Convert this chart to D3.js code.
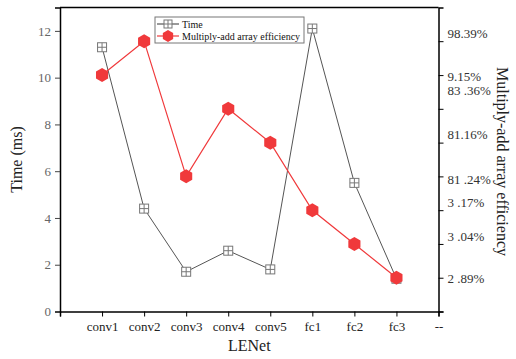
<!DOCTYPE html>
<html>
<head>
<meta charset="utf-8">
<script src="https://cdn.jsdelivr.net/npm/d3@7"></script>
<style>
  body { margin: 0; background: #fff; }
  text { font-family: "Liberation Serif", "Times New Roman", serif; }
</style>
</head>
<body>
<svg id="chart" width="516" height="359"></svg>
<script>
"use strict";

let categories = ["", "conv1", "conv2", "conv3", "conv4", "conv5", "fc1", "fc2", "fc3", "--"];
let layers = ["conv1", "conv2", "conv3", "conv4", "conv5", "fc1", "fc2", "fc3"];
let timeMs = [11.3, 4.4, 1.7, 2.6, 1.8, 12.1, 5.5, 1.4];
// efficiency drawn on the right scale (same 0..13 range as the left axis)
let efficiency = [10.11, 11.56, 5.78, 8.67, 7.22, 4.33, 2.89, 1.44];
let leftTicks = [0, 2, 4, 6, 8, 10, 12];
let rightTicks = [0, 1.444, 2.889, 4.333, 5.778, 7.222, 8.667, 10.11, 11.56];
let rightLabels = ["98.39%", "9.15%", "83 .36%", "81.16%", "81 .24%", "3 .17%", "3 .04%", "2 .89%"];
let rightLabelAt = [11.91, 10.07, 9.44, 7.55, 5.63, 4.65, 3.21, 1.43];

const SERIF = "Liberation Serif, Times New Roman, serif";
let svg = d3.select("#chart");
let margin = {top: 7.5, right: 77.5, bottom: 47.5, left: 60};
let W = 516, H = 359;
let w = W - margin.left - margin.right;
let h = H - margin.top - margin.bottom;
let g = svg.append("g").attr("transform", `translate(${margin.left},${margin.top})`);

let x = d3.scalePoint().domain(categories).range([0, w]);
let y = d3.scaleLinear().domain([0, 13]).range([h, 0]);

// left axis
let ax = g.append("g").call(d3.axisLeft(y).tickValues(leftTicks).tickSize(5).tickPadding(4))
  .attr("font-family", SERIF);
ax.select(".domain").attr("stroke-width", 1.5);
ax.selectAll("text").attr("font-size", 13).attr("fill", "#666");
ax.selectAll(".tick line").attr("stroke", "#444");

// bottom axis
let bx = g.append("g").attr("transform", `translate(0,${h})`)
  .call(d3.axisBottom(x).tickSize(5).tickPadding(5))
  .attr("font-family", SERIF);
bx.select(".domain").attr("stroke-width", 1.5);
bx.selectAll("text").attr("font-size", 13).attr("fill", "#222");

// right axis
let rx = g.append("g").attr("transform", `translate(${w},0)`)
  .call(d3.axisRight(y).tickValues(rightTicks).tickSize(5).tickFormat(""));
rx.select(".domain").attr("stroke-width", 1.5);

g.selectAll(".rlabel").data(rightLabels).enter().append("text")
  .attr("class", "rlabel")
  .attr("x", w + 9)
  .attr("y", (d, i) => y(rightLabelAt[i]))
  .attr("dy", "0.35em")
  .attr("font-size", 13)
  .attr("fill", "#333")
  .text(d => d);

// top border
g.append("line").attr("x1", 0).attr("x2", w).attr("y1", 0).attr("y2", 0)
  .attr("stroke", "#000").attr("stroke-width", 1.5);

// titles
svg.append("text").attr("transform", `translate(22,${margin.top + h / 2}) rotate(-90)`)
  .attr("text-anchor", "middle").attr("font-size", 16).attr("fill", "#222").text("Time (ms)");
svg.append("text").attr("x", margin.left + w / 2).attr("y", 351)
  .attr("text-anchor", "middle").attr("font-size", 16).attr("fill", "#222").text("LENet");
svg.append("text").attr("transform", `translate(497,${margin.top + h / 2 + 2}) rotate(90)`)
  .attr("text-anchor", "middle").attr("font-size", 16).attr("fill", "#222").text("Multiply-add array efficiency");

let redC = "#f0393b";
let line = d3.line().x((d, i) => x(layers[i])).y(d => y(d));

g.append("path").datum(timeMs).attr("d", line)
  .attr("fill", "none").attr("stroke", "#555").attr("stroke-width", 1);
g.append("path").datum(efficiency).attr("d", line)
  .attr("fill", "none").attr("stroke", redC).attr("stroke-width", 1.2);

function boxCross(sel, s) {
  sel.append("rect").attr("x", -s / 2).attr("y", -s / 2).attr("width", s).attr("height", s)
    .attr("fill", "#fff").attr("stroke", "#777");
  sel.append("path").attr("d", `M${-s / 2},0H${s / 2}M0,${-s / 2}V${s / 2}`).attr("stroke", "#777");
}
let hex = d3.range(6).map(k => {
  let a = Math.PI / 6 + k * Math.PI / 3;
  return [7 * Math.cos(a), 7 * Math.sin(a)];
});
function hexagon(sel, k) {
  sel.append("path").attr("d", "M" + hex.map(p => [p[0] * k, p[1] * k]).join("L") + "Z").attr("fill", redC);
}

g.selectAll(".tm").data(timeMs).enter().append("g")
  .attr("transform", (d, i) => `translate(${x(layers[i])},${y(d)})`)
  .each(function () { boxCross(d3.select(this), 9); });
g.selectAll(".ef").data(efficiency).enter().append("g")
  .attr("transform", (d, i) => `translate(${x(layers[i])},${y(d)})`)
  .each(function () { hexagon(d3.select(this), 1); });

// legend
let lg = svg.append("g").attr("transform", "translate(155,17)");
lg.append("rect").attr("width", 149).attr("height", 26).attr("fill", "#fff").attr("stroke", "#777");
let items = [
  {label: "Time", color: "#555"},
  {label: "Multiply-add array efficiency", color: redC}
];
items.forEach((it, i) => {
  let yy = 7 + i * 12;
  lg.append("line").attr("x1", 2).attr("x2", 24).attr("y1", yy).attr("y2", yy)
    .attr("stroke", it.color).attr("stroke-width", 1.2);
  let m = lg.append("g").attr("transform", `translate(13,${yy})`);
  if (i === 0) boxCross(m, 8);
  else hexagon(m, 0.85);
  lg.append("text").attr("x", 27).attr("y", yy).attr("dy", "0.35em")
    .attr("font-size", 10).attr("fill", "#111").text(it.label);
});
</script>
</body>
</html>
